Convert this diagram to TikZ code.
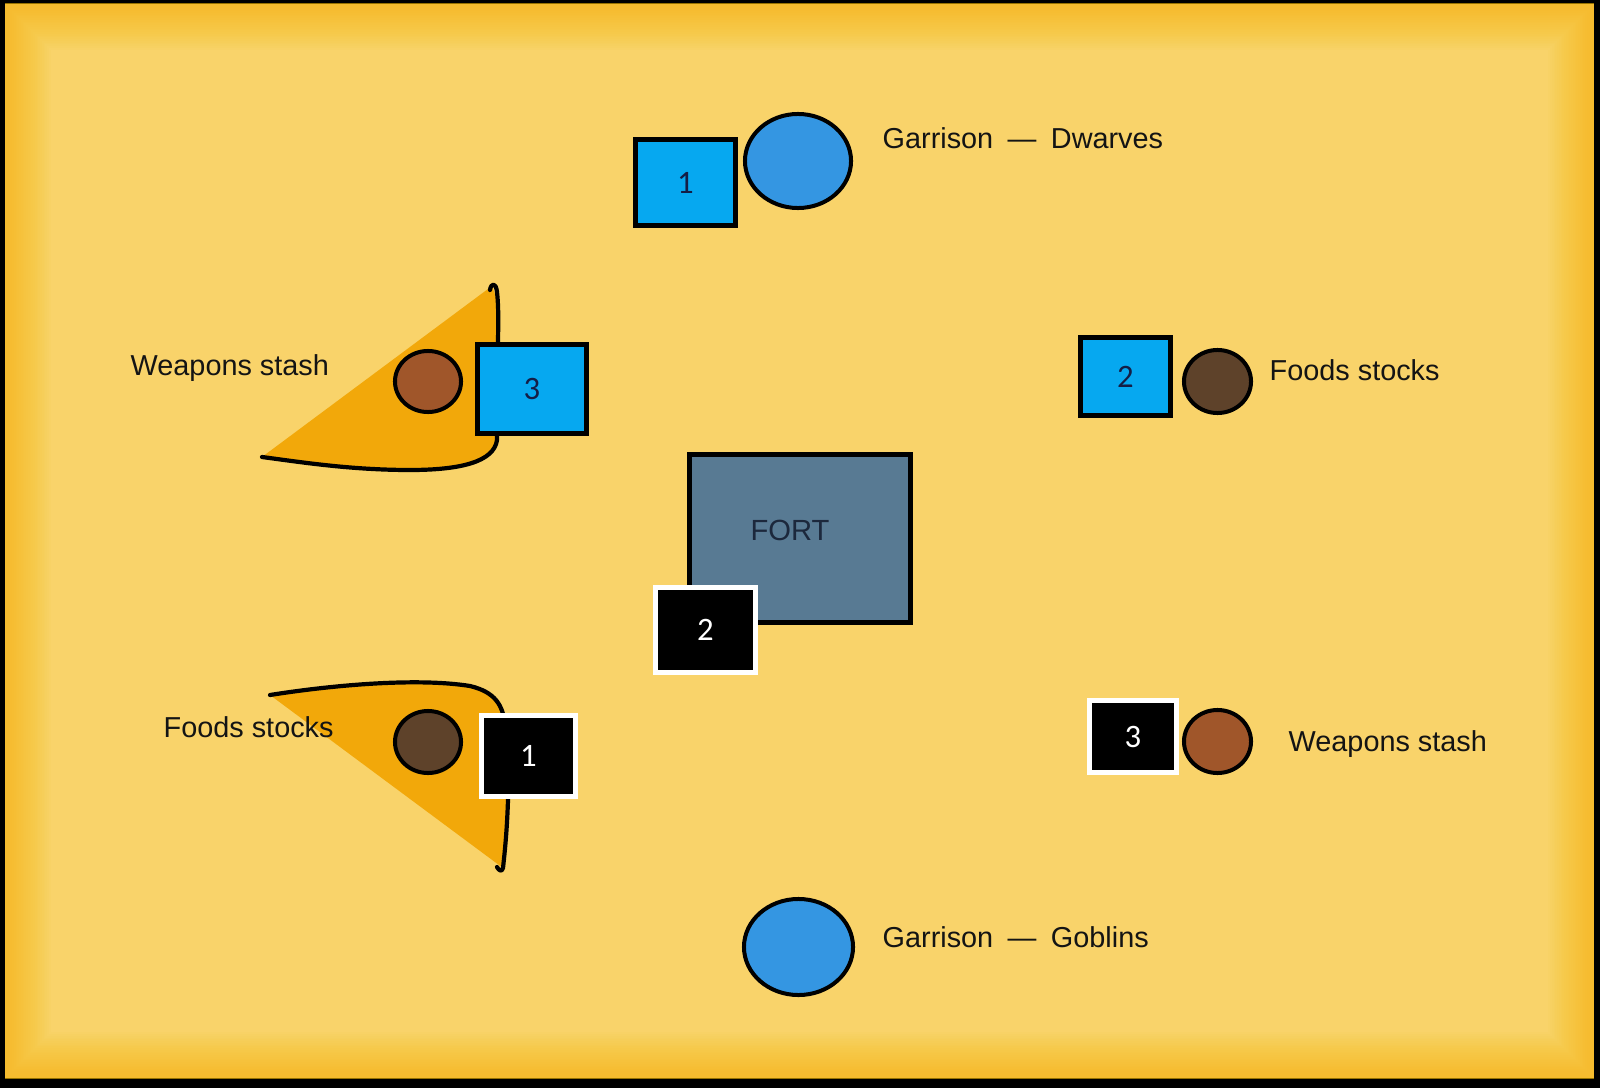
\documentclass[tikz,border=0pt]{standalone}
\usepackage{fontspec}
\setmainfont{Liberation Sans}
\newfontfamily\numfont{Carlito}
\usepackage{tikz}
\usetikzlibrary{shapes.geometric, positioning}
\usepackage{xcolor}
\definecolor{bgin}{RGB}{249,211,106}
\definecolor{bgedge}{RGB}{246,188,25}
\definecolor{boxblue}{RGB}{6,168,240}
\definecolor{garblue}{RGB}{52,150,226}
\definecolor{weapbrown}{RGB}{160,86,42}
\definecolor{fooddark}{RGB}{94,66,42}
\definecolor{fortgray}{RGB}{88,122,147}
\definecolor{forttext}{RGB}{28,40,60}
\definecolor{numnavy}{RGB}{20,30,70}
\definecolor{shapefill}{RGB}{242,168,10}
\definecolor{lbltext}{RGB}{20,20,20}

\begin{document}
\begin{tikzpicture}[
    x=0.01cm, y=-0.01cm,
    bluebox/.style={rectangle, draw=black, fill=boxblue, line width=0.5mm, inner sep=0pt, text=numnavy, font=\numfont\fontsize{9.3}{10}\selectfont},
    blackbox/.style={rectangle, draw=white, fill=black, line width=0.5mm, inner sep=0pt, text=white, font=\numfont\fontsize{9.3}{10}\selectfont},
    garrison/.style={ellipse, draw=black, fill=garblue, line width=0.4mm, inner sep=0pt},
    stock/.style={ellipse, draw=black, line width=0.4mm, inner sep=0pt},
    fortbox/.style={rectangle, draw=black, fill=fortgray, line width=0.5mm, inner sep=0pt},
    outline/.style={draw=black, line width=0.42mm, line cap=round, line join=round},
    lbl/.style={anchor=base west, inner sep=0pt, text=lbltext, font=\fontsize{8.2}{10}\selectfont},
]
    % Frame and background
    \fill[black] (0,0) rectangle (1600,1088);
    \fill[bgin] (5,4) rectangle (1594,1078);
    \begin{scope}
        \clip (5,4) rectangle (1594,1078);
        \foreach \w in {1,2,...,26}
            \draw[bgedge, draw opacity=0.04, line width=\w pt] (5,4) rectangle (1594,1078);
    \end{scope}

    % Slices (drawn directly)
    \fill[shapefill] (262,457) -- (492,286) -- (497,300) -- (498,340) -- (497,440)
        .. controls (494,462) and (460,470) .. (410,470)
        .. controls (350,470) and (300,462) .. (262,457) -- cycle;
    \draw[outline] (490,290) .. controls (491,283) and (496,282) .. (497,292)
        .. controls (499,310) and (498,330) .. (498,345) -- (497,440)
        .. controls (494,462) and (460,470) .. (410,470)
        .. controls (350,470) and (300,462) .. (262,457);

    \fill[shapefill] (270,695) .. controls (340,684) and (420,678) .. (470,686)
        .. controls (495,692) and (503,705) .. (505,725) -- (508,800)
        .. controls (507,830) and (505,850) .. (503,868) -- cycle;
    \draw[outline] (270,695) .. controls (340,684) and (420,678) .. (470,686)
        .. controls (495,692) and (503,705) .. (505,725) -- (508,800)
        .. controls (507,830) and (505,850) .. (503,868)
        .. controls (502,872) and (499,871) .. (497,867);

    % Garrisons
    \node[garrison, minimum width=10.6mm, minimum height=9.4mm] (dwarves) at (798,161) {};
    \node[garrison, minimum width=10.9mm, minimum height=9.6mm] (goblins) at (798.5,947) {};
    \node[lbl] (dwarveslbl) at (882,149) {Garrison\enspace—\enspace Dwarves};
    \node[lbl] (goblinslbl) at (882,947) {Garrison\enspace—\enspace Goblins};

    % Stocks and stashes
    \node[stock, fill=weapbrown, minimum width=6.6mm, minimum height=6.1mm] (weapleft) at (428,381.5) {};
    \node[stock, fill=fooddark, minimum width=6.7mm, minimum height=6.3mm] (foodright) at (1217.5,381.5) {};
    \node[stock, fill=fooddark, minimum width=6.6mm, minimum height=6.2mm] (foodleft) at (428,742) {};
    \node[stock, fill=weapbrown, minimum width=6.7mm, minimum height=6.3mm] (weapright) at (1217.5,741.5) {};
    \node[lbl] (weapleftlbl) at (130,375) {Weapons stash};
    \node[lbl] (foodrightlbl) at (1269,380) {Foods stocks};
    \node[lbl] (foodleftlbl) at (163,737) {Foods stocks};
    \node[lbl] (weaprightlbl) at (1288,751) {Weapons stash};

    % Fort
    \node[fortbox, minimum width=22.1mm, minimum height=16.8mm] (fort) at (800,538.5) {};
    \node[anchor=base, inner sep=0pt, text=forttext, font=\fontsize{8.3}{10}\selectfont] (fortlbl) at (790,540) {FORT};

    % Blue squads
    \node[bluebox, minimum width=10mm, minimum height=8.6mm] (blue1) at (685.5,182.5) {1};
    \node[bluebox, minimum width=9mm, minimum height=7.8mm] (blue2) at (1125.5,376.5) {2};
    \node[bluebox, minimum width=10.9mm, minimum height=8.9mm] (blue3) at (532,389) {3};

    % Black squads
    \node[blackbox, minimum width=9.4mm, minimum height=8.1mm] (black1) at (528.5,756) {1};
    \node[blackbox, minimum width=10mm, minimum height=8.5mm] (black2) at (705.5,630) {2};
    \node[blackbox, minimum width=8.7mm, minimum height=7.2mm] (black3) at (1133,736.5) {3};
\end{tikzpicture}
\end{document}
